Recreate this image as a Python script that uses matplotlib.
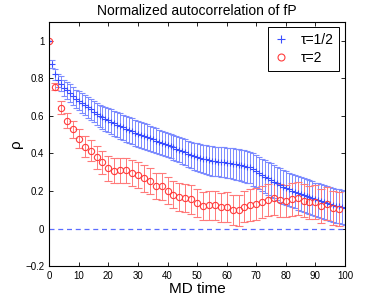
import numpy as np
import matplotlib
matplotlib.use('Agg')
import matplotlib.pyplot as plt
from matplotlib.lines import Line2D

plt.rcParams['font.family'] = ['Liberation Sans', 'DejaVu Sans']

# tau = 1/2, every MD step
t_half = np.arange(0, 101)
rho_half = [1.000, 0.875, 0.820, 0.790, 0.770, 0.750, 0.735, 0.720, 0.705, 0.690,
            0.680, 0.669, 0.657, 0.646, 0.634, 0.623, 0.611, 0.600, 0.592, 0.584,
            0.576, 0.569, 0.561, 0.553, 0.545, 0.538, 0.531, 0.524, 0.517, 0.510,
            0.504, 0.498, 0.492, 0.486, 0.480, 0.474, 0.468, 0.462, 0.456, 0.450,
            0.444, 0.438, 0.432, 0.426, 0.420, 0.413, 0.406, 0.399, 0.392, 0.385,
            0.381, 0.377, 0.372, 0.368, 0.364, 0.360, 0.358, 0.356, 0.354, 0.352,
            0.350, 0.348, 0.345, 0.343, 0.340, 0.336, 0.333, 0.329, 0.325, 0.315,
            0.305, 0.295, 0.285, 0.276, 0.268, 0.259, 0.250, 0.240, 0.230, 0.220,
            0.214, 0.208, 0.202, 0.197, 0.191, 0.185, 0.179, 0.173, 0.167, 0.161,
            0.155, 0.150, 0.145, 0.140, 0.135, 0.130, 0.126, 0.122, 0.118, 0.114,
            0.110]
err_half = [0.000, 0.020, 0.030, 0.035, 0.040, 0.042, 0.045, 0.047, 0.048, 0.050,
            0.050, 0.052, 0.053, 0.055, 0.056, 0.058, 0.059, 0.060, 0.062, 0.063,
            0.064, 0.065, 0.066, 0.067, 0.068, 0.068, 0.068, 0.069, 0.069, 0.069,
            0.069, 0.069, 0.068, 0.068, 0.067, 0.066, 0.065, 0.065, 0.064, 0.064,
            0.064, 0.065, 0.065, 0.066, 0.066, 0.067, 0.068, 0.069, 0.070, 0.071,
            0.073, 0.074, 0.075, 0.076, 0.077, 0.078, 0.078, 0.079, 0.080, 0.080,
            0.081, 0.081, 0.082, 0.082, 0.083, 0.083, 0.084, 0.084, 0.085, 0.086,
            0.086, 0.087, 0.087, 0.088, 0.088, 0.089, 0.089, 0.090, 0.090, 0.090,
            0.090, 0.090, 0.090, 0.090, 0.090, 0.090, 0.090, 0.090, 0.090, 0.090,
            0.090, 0.090, 0.090, 0.090, 0.090, 0.090, 0.090, 0.090, 0.090, 0.090,
            0.090]

# tau = 2, every second MD step
t_two = np.arange(0, 100, 2)
rho_two = [1.000, 0.755, 0.643, 0.574, 0.528, 0.479, 0.435, 0.415, 0.379, 0.352,
           0.320, 0.307, 0.310, 0.310, 0.296, 0.285, 0.267, 0.252, 0.226, 0.224,
           0.200, 0.180, 0.168, 0.163, 0.155, 0.137, 0.120, 0.124, 0.124, 0.112,
           0.116, 0.098, 0.098, 0.116, 0.124, 0.133, 0.142, 0.151, 0.160, 0.151,
           0.146, 0.157, 0.160, 0.148, 0.140, 0.140, 0.120, 0.133, 0.110, 0.103]
err_two = [0.000, 0.020, 0.035, 0.040, 0.045, 0.050, 0.055, 0.058, 0.060, 0.062,
           0.065, 0.066, 0.066, 0.067, 0.067, 0.068, 0.070, 0.070, 0.071, 0.072,
           0.072, 0.073, 0.073, 0.074, 0.075, 0.075, 0.076, 0.077, 0.078, 0.079,
           0.080, 0.081, 0.082, 0.083, 0.084, 0.085, 0.085, 0.086, 0.086, 0.087,
           0.087, 0.088, 0.088, 0.089, 0.089, 0.090, 0.090, 0.090, 0.090, 0.090]

labels = ['\u03c4=1/2', '\u03c4=2']
blue = '#3a4eff'
red = '#ff3c3c'

fig = plt.figure(figsize=(3.82, 3.0), dpi=100)
ax = fig.add_axes([0.129, 0.113, 0.774, 0.814])

ax.plot([0, 100], [0, 0], color='#5a6cff', linestyle='--', linewidth=0.9, dashes=(4, 3))

eb1 = ax.errorbar(t_half, rho_half, yerr=err_half, fmt='+', color=blue,
                  ecolor='#7d8cff', elinewidth=0.7, capsize=2.2, capthick=0.9,
                  markersize=5, markeredgewidth=0.8)
eb2 = ax.errorbar(t_two, rho_two, yerr=err_two, fmt='o', color=red,
                  mfc='none', ecolor='#ff7a7a', elinewidth=0.7, capsize=2.6,
                  capthick=0.9, markersize=4.5, markeredgewidth=0.8)
for c in eb1[1]:
    c.set_color(blue)
for c in eb2[1]:
    c.set_color(red)

ax.set_xlim(0, 100)
ax.set_ylim(-0.2, 1.1)
ax.set_xticks(np.arange(0, 101, 10))
ax.set_yticks([-0.2, 0, 0.2, 0.4, 0.6, 0.8, 1.0])
ax.set_yticklabels(['\u22120.2', '0', '0.2', '0.4', '0.6', '0.8', '1'])
ax.tick_params(direction='in', top=True, right=True, labelsize=7, length=3, width=0.6)
for s in ax.spines.values():
    s.set_linewidth(0.8)

ax.set_title('Normalized autocorrelation of fP', fontsize=10, pad=5)
ax.set_xlabel('MD time', fontsize=11, labelpad=1)
ax.set_ylabel('\u03c1', fontsize=11, labelpad=2)

handles = [Line2D([], [], linestyle='none', marker='+', color=blue, markersize=6,
                  markeredgewidth=0.8),
           Line2D([], [], linestyle='none', marker='o', color=red, mfc='none',
                  markersize=5, markeredgewidth=0.8)]
leg = ax.legend(handles, labels, loc='upper right', fontsize=10,
                fancybox=False, edgecolor='black', framealpha=1,
                borderaxespad=0.4, handlelength=1.2, handletextpad=0.8,
                borderpad=0.4, labelspacing=0.3)
leg.get_frame().set_linewidth(0.7)

fig.savefig('out.png', dpi=100)
